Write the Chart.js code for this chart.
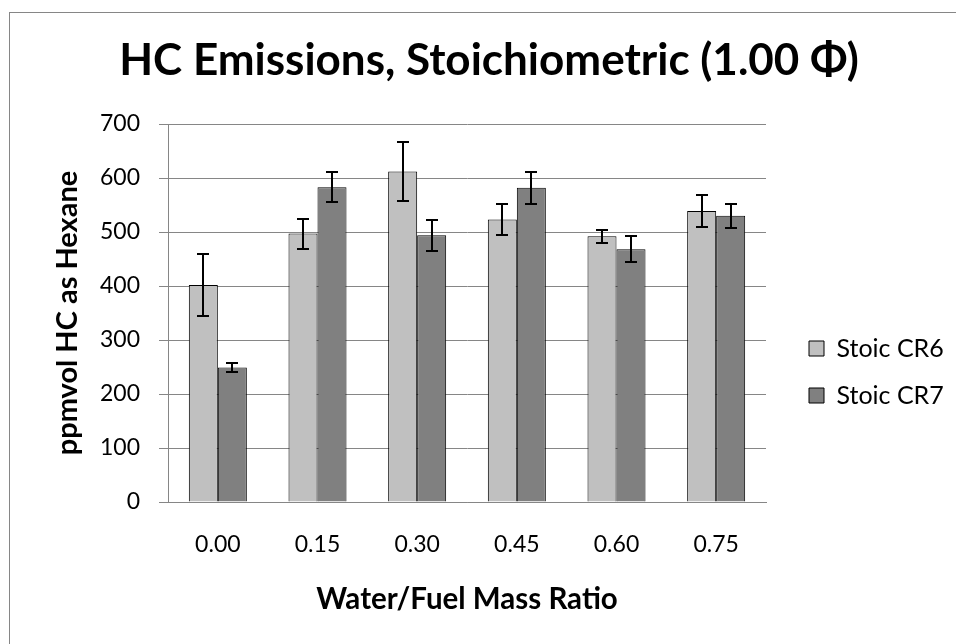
<!DOCTYPE html>
<html>
<head>
<meta charset="utf-8">
<script src="https://cdn.jsdelivr.net/npm/chart.js@4/dist/chart.umd.min.js"></script>
<style>
  html, body { margin: 0; padding: 0; background: #ffffff; }
  #wrap { width: 956px; height: 644px; }
</style>
</head>
<body>
<div id="wrap"><canvas id="chart" width="956" height="644"></canvas></div>
<script>
// Water/fuel mass ratios (x categories)
const categories = ['0.00', '0.15', '0.30', '0.45', '0.60', '0.75'];

// HC emissions, ppmvol as hexane
const cr6Values = [402, 497, 612, 523, 492, 539];
const cr6Errors = [58, 28, 54, 29, 12, 29];
const cr7Values = [249, 583, 494, 582, 468, 530];
const cr7Errors = [9, 28, 29, 30, 24, 22];

const seriesNames = ['Stoic CR6', 'Stoic CR7'];
const yMin = 0;
const yMax = 700;
const yStep = 100;

const GRID = '#868686';
const FONT = 'Lato';

// Outer chart frame (left and top edges)
const framePlugin = {
  id: 'frame',
  beforeDraw(chart) {
    const ctx = chart.ctx;
    ctx.save();
    ctx.fillStyle = '#ffffff';
    ctx.fillRect(0, 0, chart.width, chart.height);
    ctx.strokeStyle = GRID;
    ctx.lineWidth = 1;
    ctx.strokeRect(9.5, 12.5, chart.width + 40, chart.height + 40);
    ctx.restore();
  }
};

// Place the title over the full frame and the legend beside the plot
const placementPlugin = {
  id: 'placement',
  afterLayout(chart) {
    const tb = chart.titleBlock;
    if (tb) {
      const w = tb.right - tb.left;
      tb.left = 489 - w / 2;
      tb.right = tb.left + w;
    }
    const lg = chart.legend;
    if (lg) {
      const w = 160, h = lg.height;
      lg.left = 787;
      lg.right = lg.left + w;
      lg.width = w;
      lg.top = 314;
      lg.bottom = lg.top + h;
    }
  }
};

// Symmetric error bars with caps
const errorBarPlugin = {
  id: 'errorBars',
  afterDatasetsDraw(chart) {
    const ctx = chart.ctx;
    const y = chart.scales.y;
    ctx.save();
    ctx.strokeStyle = '#000000';
    ctx.lineWidth = 2;
    chart.data.datasets.forEach((ds, di) => {
      const meta = chart.getDatasetMeta(di);
      meta.data.forEach((bar, i) => {
        const v = ds.data[i];
        const e = ds.errors[i];
        const yt = Math.round(y.getPixelForValue(v + e));
        const yb = Math.round(y.getPixelForValue(v - e));
        const x = Math.round(bar.x);
        const cap = 6;
        ctx.beginPath();
        ctx.moveTo(x, yt); ctx.lineTo(x, yb);
        ctx.moveTo(x - cap, yt); ctx.lineTo(x + cap, yt);
        ctx.moveTo(x - cap, yb); ctx.lineTo(x + cap, yb);
        ctx.stroke();
      });
    });
    ctx.restore();
  }
};

Chart.defaults.color = '#000000';
Chart.defaults.font.family = FONT;

new Chart(document.getElementById('chart'), {
  type: 'bar',
  data: {
    labels: categories,
    datasets: [
      {
        label: seriesNames[0],
        data: cr6Values,
        errors: cr6Errors,
        backgroundColor: '#c0c0c0',
        borderColor: '#000000',
        borderWidth: 1,
        categoryPercentage: 0.582,
        barPercentage: 1.0
      },
      {
        label: seriesNames[1],
        data: cr7Values,
        errors: cr7Errors,
        backgroundColor: '#808080',
        borderColor: '#000000',
        borderWidth: 1,
        categoryPercentage: 0.582,
        barPercentage: 1.0
      }
    ]
  },
  options: {
    responsive: false,
    animation: false,
    devicePixelRatio: 1,
    layout: { padding: { left: 10, right: 190, top: 0, bottom: 0 } },
    plugins: {
      title: {
        display: true,
        text: 'HC Emissions, Stoichiometric (1.00 Φ)',
        color: '#000000',
        font: { family: FONT, size: 44, weight: 'bold' },
        padding: { top: 34, bottom: 37.2 }
      },
      legend: {
        display: true,
        position: 'chartArea',
        align: 'start',
        labels: {
          boxWidth: 15,
          boxHeight: 15,
          padding: 22,
          color: '#000000',
          font: { family: FONT, size: 25 }
        }
      },
      tooltip: { enabled: false }
    },
    scales: {
      x: {
        grid: { display: false, drawTicks: false },
        border: { display: true, color: GRID, width: 1 },
        ticks: {
          padding: 29,
          color: '#000000',
          font: { family: FONT, size: 23 }
        },
        title: {
          display: true,
          text: 'Water/Fuel Mass Ratio',
          color: '#000000',
          font: { family: FONT, size: 29.5, weight: 'bold' },
          padding: { top: 0, bottom: 27 }
        },
        afterFit(scale) { scale.height = 142; }
      },
      y: {
        min: yMin,
        max: yMax,
        ticks: {
          stepSize: yStep,
          padding: 19,
          color: '#000000',
          font: { family: FONT, size: 23 }
        },
        grid: { color: GRID, lineWidth: 1, drawTicks: true, tickLength: 9 },
        border: { display: true, color: GRID, width: 1 },
        title: {
          display: true,
          text: 'ppmvol HC as Hexane',
          color: '#000000',
          font: { family: FONT, size: 29, weight: 'bold' },
          padding: { top: 40, bottom: 0 }
        },
        afterFit(scale) { scale.width = 158; }
      }
    }
  },
  plugins: [framePlugin, placementPlugin, errorBarPlugin]
});
</script>
</body>
</html>
